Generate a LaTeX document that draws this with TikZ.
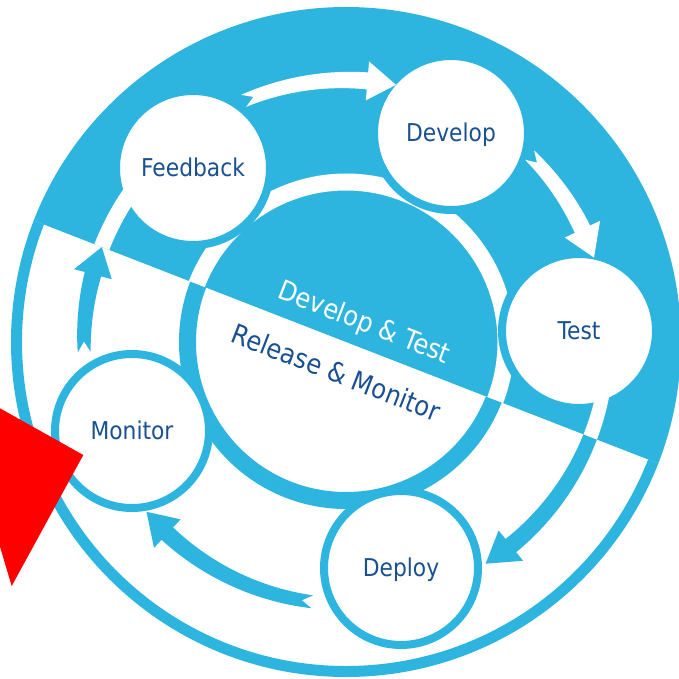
\documentclass[tikz,border=0pt]{standalone}
\usepackage{fontspec}
\setmainfont{DejaVu Sans}[FakeStretch=0.89]
\definecolor{cyc}{RGB}{45,181,224}
\definecolor{ink}{RGB}{25,80,145}

% curved arrow along the ring of radius 262 around the hub:
% #1 colour, #2 tail angle, #3 head base angle, #4 tip angle, #5 notch depth
\newcommand{\cyclearrow}[5]{%
  \fill[#1] plot[domain=#2:#3,samples=40]
      (\x:{262+(13+4*(\x-(#2))/((#3)-(#2)))/2})
    -- ({#3}:281.5) -- ({#4}:262) -- ({#3}:242.5)
    -- plot[domain=#3:#2,samples=40]
      (\x:{262-(13+4*(\x-(#2))/((#3)-(#2)))/2})
    -- ({(#2)+(#5)}:262) -- cycle;}

\begin{document}
\begin{tikzpicture}[x=1pt,y=-1pt,
  stage/.style={circle, draw=cyc, line width=8pt, fill=white,
    minimum size=154pt, inner sep=0pt, text=ink,
    font=\fontsize{24.5}{29}\selectfont, text height=17.9pt, text depth=0pt},
  hubtext/.style={rotate=-21.25, anchor=base, inner sep=0pt,
    font=\fontsize{27.2}{32}\selectfont}]
\useasboundingbox (0,0) rectangle (679,679);

\begin{scope}[shift={(346,342)}]
  % release half: white ground, blue outlines
  \begin{scope}
    \clip (21.25:1000) -- (66.25:1414) -- (156.25:1414) -- (201.25:1000) -- cycle;
    \draw[cyc, line width=11pt] (0,0) circle[radius=329.5];
    \draw[cyc, line width=17pt] (0,0) circle[radius=158.5];
  \end{scope}
  % develop half: blue ground, white gap round the hub
  \begin{scope}
    \clip (21.25:1000) -- (-23.75:1414) -- (-113.75:1414) -- (201.25:1000) -- cycle;
    \fill[cyc] (0,0) circle[radius=335];
    \draw[white, line width=17pt] (0,0) circle[radius=160];
  \end{scope}

  % hub labels on both sides of the dividing line
  \node[hubtext, text=white] (devtest) at (15.1,-11.3) {Develop \& Test};
  \node[hubtext, text=ink] (relmon) at (-13.3,39.6) {Release \& Monitor};
\end{scope}

% stages of the cycle
\node[stage] (feedback) at (193,168) {Feedback};
\node[stage] (develop)  at (451,133) {Develop};
\node[stage] (test)     at (579,331) {Test};
\node[stage] (deploy)   at (401,568) {Deploy};
\node[stage] (monitor)  at (132,431) {Monitor};

\begin{scope}[shift={(346,342)}]
  % arrows in the release half
  \begin{scope}
    \clip (21.25:1000) -- (66.25:1414) -- (156.25:1414) -- (201.25:1000) -- cycle;
    \cyclearrow{cyc}{5}{51}{57.8}{2.3}
    \cyclearrow{cyc}{97.4}{133}{139.6}{2.3}
    \cyclearrow{cyc}{177.8}{195}{201.25}{2.3}
  \end{scope}
  % arrows in the develop half
  \begin{scope}
    \clip (21.25:1000) -- (-23.75:1414) -- (-113.75:1414) -- (201.25:1000) -- cycle;
    \cyclearrow{white}{-113}{-85.3}{-79}{2.3}
    \cyclearrow{white}{-45.5}{-25.5}{-18.8}{2.3}
    \cyclearrow{white}{5}{51}{57.8}{2.3}
    \draw[white, line width=16pt] (190:262) arc[start angle=190, end angle=216, radius=262];
  \end{scope}
\end{scope}

% red marker at the left edge
\fill[red] (0,408.3) -- (83.3,455) -- (11.7,586) -- (0,546.7) -- cycle;
\end{tikzpicture}
\end{document}
